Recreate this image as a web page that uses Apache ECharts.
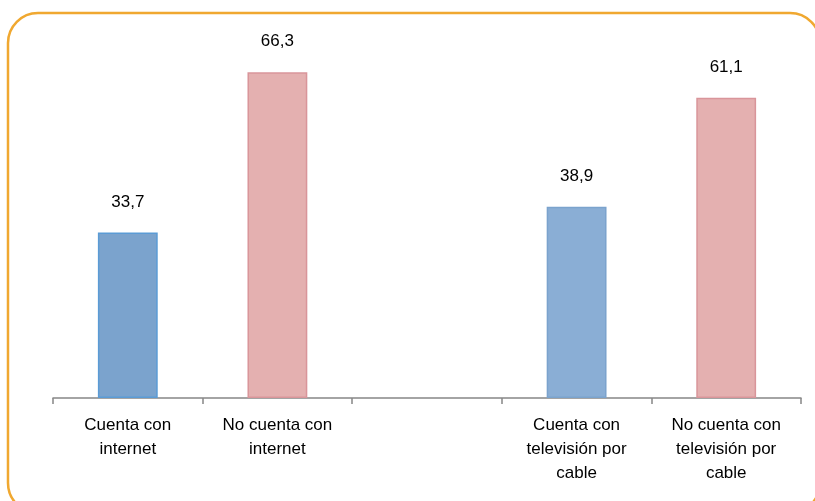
<!DOCTYPE html>
<html>
<head>
<meta charset="utf-8">
<script src="https://cdn.jsdelivr.net/npm/echarts@6/dist/echarts.min.js"></script>
<style>
html,body{margin:0;padding:0;background:#fff;}
#c{width:815px;height:501px;}
</style>
</head>
<body>
<div id="c"></div>
<script>
var categories = ['Cuenta con\ninternet', 'No cuenta con\ninternet', '', 'Cuenta con\ntelevisión por\ncable', 'No cuenta con\ntelevisión por\ncable'];
var values = [33.7, 66.3, null, 38.9, 61.1];
var fills = ['#7ba3cd', '#e4b0b0', '#ffffff', '#8aaed5', '#e4b0b0'];
var borders = ['#5b9bd5', '#d9959a', '#ffffff', '#7ba3cd', '#d9959a'];

var chart = echarts.init(document.getElementById('c'));
var dataItems = values.map(function (v, i) {
  return { value: v, itemStyle: { color: fills[i], borderColor: borders[i], borderWidth: 1.5 } };
});
chart.setOption({
  animation: false,
  backgroundColor: '#ffffff',
  graphic: [{
    type: 'rect',
    shape: { x: 8, y: 13, width: 812, height: 500, r: 30 },
    style: { fill: 'none', stroke: '#f0a830', lineWidth: 2.5 },
    silent: true
  }],
  grid: { left: 53, right: 14, top: 54, bottom: 103 },
  xAxis: {
    type: 'category',
    data: categories,
    axisLine: { lineStyle: { color: '#868686', width: 1.5 } },
    axisTick: { show: true, alignWithLabel: false, length: 6, lineStyle: { color: '#868686', width: 1.5 } },
    axisLabel: {
      interval: 0, margin: 15, color: '#000', fontSize: 17, lineHeight: 24,
      fontFamily: 'Liberation Sans, Arial, sans-serif'
    }
  },
  yAxis: { type: 'value', min: 0, max: 70, show: false, splitLine: { show: false } },
  series: [{
    type: 'bar',
    data: dataItems,
    barWidth: '40%',
    label: {
      show: true, position: 'top', distance: 22, color: '#000', fontSize: 17,
      fontFamily: 'Liberation Sans, Arial, sans-serif',
      formatter: function (p) { return p.value == null ? '' : String(p.value).replace('.', ','); }
    }
  }]
});
</script>
</body>
</html>
